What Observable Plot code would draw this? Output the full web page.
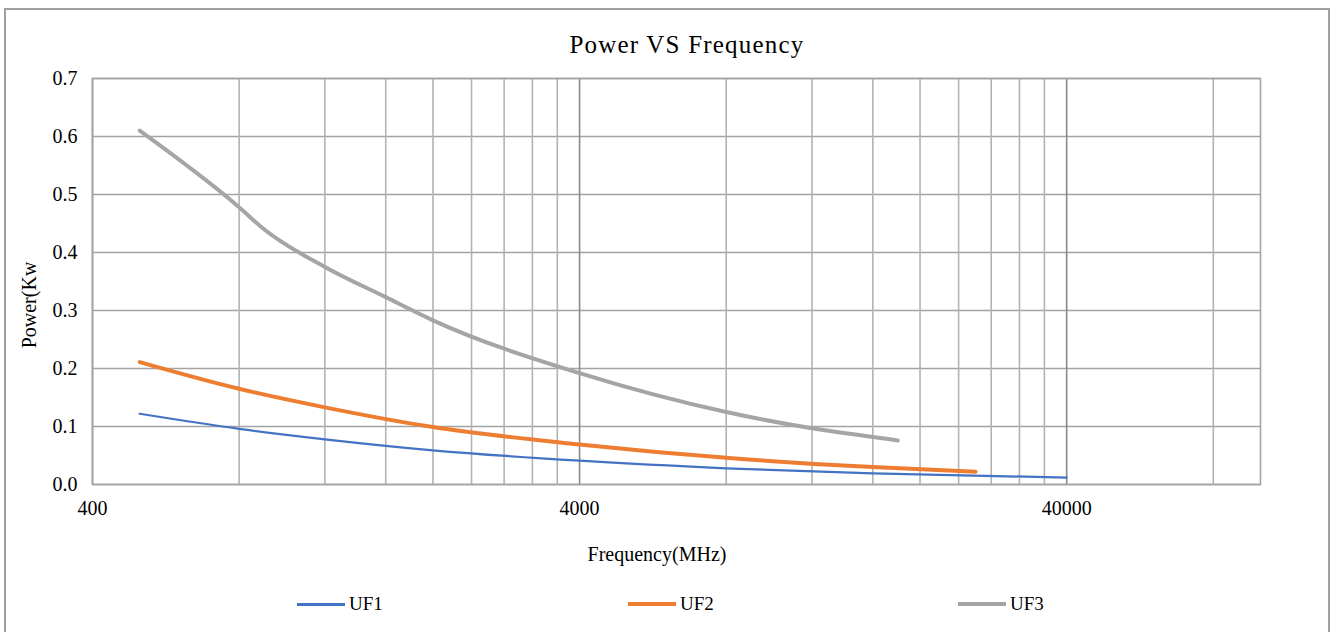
<!DOCTYPE html>
<html>
<head>
<meta charset="utf-8">
<script src="https://cdn.jsdelivr.net/npm/d3@7"></script>
<script src="https://cdn.jsdelivr.net/npm/@observablehq/plot@0.6"></script>
<style>
  body { margin: 0; background: #fff; }
  #wrap { position: relative; width: 1334px; height: 632px; overflow: hidden; font-family: "Liberation Serif", "DejaVu Serif", "Times New Roman", serif; color: #000; background: #fff; }
  #border { position: absolute; left: 4px; top: 8px; width: 1326px; height: 640px; border: 2px solid #a0a0a0; box-sizing: border-box; }
  #chart { position: absolute; left: 0; top: 0; }
  .title { position: absolute; top: 31px; left: 687px; transform: translateX(-50%); font-size: 25px; letter-spacing: 1.2px; white-space: nowrap; }
  .xlabel { position: absolute; top: 543px; left: 657px; transform: translateX(-50%); font-size: 20px; white-space: nowrap; }
  .ylabel { position: absolute; left: 29px; top: 305px; transform: translate(-50%, -50%) rotate(-90deg); font-size: 20px; white-space: nowrap; }
  .leg { position: absolute; top: 593px; display: flex; align-items: center; font-size: 19px; white-space: nowrap; }
  .leg span.sw { display: inline-block; width: 48px; margin-right: 4px; }
</style>
</head>
<body>
<div id="wrap">
  <div id="border"></div>
  <div id="chart"></div>
  <div class="title">Power VS Frequency</div>
  <div class="xlabel">Frequency(MHz)</div>
  <div class="ylabel">Power(Kw</div>
  <div id="legend"></div>
</div>
<script>
// ---- data ----
const seriesNames = ["UF1", "UF2", "UF3"];
const seriesColors = ["#4472C4", "#ED7D31", "#A5A5A5"];
const seriesWidths = [2.25, 4, 4];

const uf1Freq  = [500, 800, 1200, 2000, 4000, 8000, 16000, 40000];
const uf1Power = [0.122, 0.096, 0.078, 0.059, 0.041, 0.028, 0.019, 0.012];

const uf2Freq  = [500, 800, 1200, 2000, 4000, 8000, 16000, 26000];
const uf2Power = [0.211, 0.165, 0.133, 0.099, 0.069, 0.046, 0.030, 0.022];

const uf3Freq  = [500, 800, 900, 1200, 1600, 2000, 4000, 8000, 12000, 16000, 18000];
const uf3Power = [0.610, 0.478, 0.440, 0.375, 0.323, 0.283, 0.192, 0.125, 0.097, 0.082, 0.076];

const xMajorTicks = [400, 4000, 40000];
const xMinorTicks = [800, 1200, 1600, 2000, 2400, 2800, 3200, 3600,
                     8000, 12000, 16000, 20000, 24000, 28000, 32000, 36000, 80000];
const yTicks = [0, 0.1, 0.2, 0.3, 0.4, 0.5, 0.6, 0.7];
const xDomain = [400, 100000];
const yDomain = [0, 0.7];

// ---- build table ----
const freqs = [uf1Freq, uf2Freq, uf3Freq];
const powers = [uf1Power, uf2Power, uf3Power];
const rows = [];
seriesNames.forEach((name, i) => {
  freqs[i].forEach((f, j) => rows.push({series: name, freq: f, power: powers[i][j]}));
});

const lineMarks = seriesNames.map((name, i) =>
  Plot.line(rows.filter(d => d.series === name), {
    x: "freq", y: "power", stroke: seriesColors[i], strokeWidth: seriesWidths[i],
    curve: "monotone-x", strokeLinecap: "round", strokeLinejoin: "round"
  })
);

const plot = Plot.plot({
  width: 1334,
  height: 632,
  marginLeft: 92,
  marginRight: 74,
  marginTop: 78,
  marginBottom: 148,
  style: { fontFamily: "'Liberation Serif', 'DejaVu Serif', serif", fontSize: "20px", background: "transparent", color: "#000" },
  x: { type: "log", domain: xDomain },
  y: { domain: yDomain },
  marks: [
    Plot.ruleY(yTicks, { stroke: "#a3a3a3", strokeWidth: 1.6 }),
    Plot.ruleX(xMinorTicks, { stroke: "#b3b3b3", strokeWidth: 1.6 }),
    Plot.ruleX(xMajorTicks, { stroke: "#8a8a8a", strokeWidth: 1.6 }),
    Plot.frame({ stroke: "#a3a3a3", strokeWidth: 1.6 }),
    ...lineMarks,
    Plot.axisX(xMajorTicks, { tickSize: 0, tickPadding: 16, tickFormat: d => String(d), fontSize: 20, label: null, fill: "#000" }),
    Plot.axisY(yTicks, { tickSize: 0, tickPadding: 15, tickFormat: d3.format(".1f"), fontSize: 20, label: null, fill: "#000" })
  ]
});
document.getElementById("chart").appendChild(plot);

// ---- legend ----
const legendLefts = [297, 628, 958];
const legend = document.getElementById("legend");
seriesNames.forEach((name, i) => {
  const item = document.createElement("div");
  item.className = "leg";
  item.style.left = legendLefts[i] + "px";
  const sw = document.createElement("span");
  sw.className = "sw";
  sw.style.borderTop = (i === 0 ? 3 : 4) + "px solid " + seriesColors[i];
  item.appendChild(sw);
  const t = document.createElement("span");
  t.textContent = name;
  item.appendChild(t);
  legend.appendChild(item);
});
</script>
</body>
</html>
